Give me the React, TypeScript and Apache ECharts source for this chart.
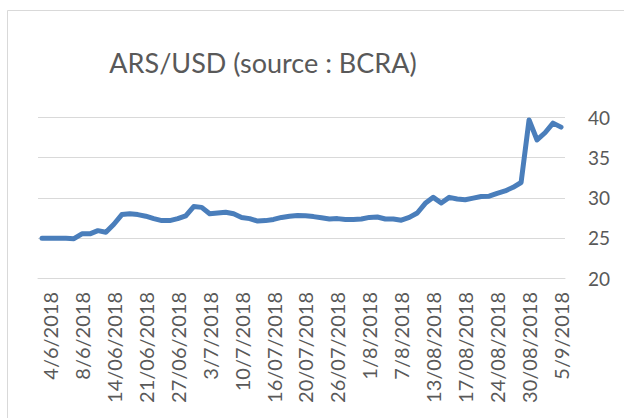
import React, { useEffect, useRef } from "react";
import * as echarts from "echarts";

const titleText = "ARS/USD (source : BCRA)";

const dates: string[] = [
  "1/6/2018", "4/6/2018", "5/6/2018", "6/6/2018", "7/6/2018", "8/6/2018",
  "11/06/2018", "12/06/2018", "13/06/2018", "14/06/2018", "15/06/2018", "18/06/2018",
  "19/06/2018", "21/06/2018", "22/06/2018", "25/06/2018", "26/06/2018", "27/06/2018",
  "28/06/2018", "29/06/2018", "2/7/2018", "3/7/2018", "4/7/2018", "5/7/2018",
  "6/7/2018", "10/7/2018", "11/07/2018", "12/07/2018", "13/07/2018", "16/07/2018",
  "17/07/2018", "18/07/2018", "19/07/2018", "20/07/2018", "23/07/2018", "24/07/2018",
  "25/07/2018", "26/07/2018", "27/07/2018", "30/07/2018", "31/07/2018", "1/8/2018",
  "2/8/2018", "3/8/2018", "6/8/2018", "7/8/2018", "8/8/2018", "9/8/2018",
  "10/8/2018", "13/08/2018", "14/08/2018", "15/08/2018", "16/08/2018", "17/08/2018",
  "21/08/2018", "22/08/2018", "23/08/2018", "24/08/2018", "27/08/2018", "28/08/2018",
  "29/08/2018", "30/08/2018", "31/08/2018", "3/9/2018", "4/9/2018", "5/9/2018",
];

const arsUsd: number[] = [
  24.95, 24.95, 24.95, 24.95, 24.9, 25.5,
  25.5, 25.9, 25.7, 26.7, 27.9, 28.0,
  27.9, 27.7, 27.4, 27.15, 27.15, 27.4,
  27.75, 28.9, 28.8, 28.0, 28.1, 28.2,
  28.0, 27.55, 27.4, 27.1, 27.15, 27.3,
  27.55, 27.7, 27.8, 27.75, 27.65, 27.5,
  27.35, 27.4, 27.3, 27.3, 27.35, 27.55,
  27.6, 27.35, 27.35, 27.2, 27.55, 28.1,
  29.3, 30.05, 29.35, 30.05, 29.85, 29.75,
  29.95, 30.15, 30.2, 30.55, 30.85, 31.3,
  31.9, 39.7, 37.2, 38.1, 39.3, 38.8,
];

const yMin = 20;
const yMax = 40;
const yStep = 5;

export default function App() {
  const ref = useRef<HTMLDivElement>(null);
  useEffect(() => {
    if (!ref.current) return;
    const chart = echarts.init(ref.current, undefined, { renderer: "svg" });
    const font = "Lato, 'Open Sans', sans-serif";
    chart.setOption({
      animation: false,
      backgroundColor: "#ffffff",
      graphic: [
        {
          type: "rect",
          shape: { x: 7.5, y: 10.5, width: 700, height: 500 },
          style: { fill: "none", stroke: "#d9d9d9", lineWidth: 1 },
          silent: true,
        },
      ],
      title: {
        text: titleText,
        left: 258,
        top: 44,
        textAlign: "center",
        textStyle: {
          fontFamily: font,
          fontSize: 27,
          fontWeight: "normal",
          color: "#595959",
        },
      },
      grid: { left: 38, right: 59, top: 117.5, bottom: 140, containLabel: false },
      xAxis: {
        type: "category",
        data: dates,
        boundaryGap: true,
        axisLine: { show: true, lineStyle: { color: "#d9d9d9", width: 1 } },
        axisTick: { show: false },
        axisLabel: {
          interval: (index: number) => index % 4 === 1,
          rotate: 90,
          margin: 14,
          fontFamily: font,
          fontSize: 20,
          color: "#595959",
        },
      },
      yAxis: {
        type: "value",
        position: "right",
        min: yMin,
        max: yMax,
        interval: yStep,
        axisLine: { show: false },
        axisTick: { show: false },
        splitLine: { lineStyle: { color: "#d9d9d9", width: 1 } },
        axisLabel: {
          margin: 23,
          fontFamily: font,
          fontSize: 19,
          color: "#595959",
        },
      },
      series: [
        {
          type: "line",
          data: arsUsd,
          symbol: "none",
          lineStyle: { color: "#4a7ebb", width: 5, join: "round", cap: "round" },
          itemStyle: { color: "#4a7ebb" },
        },
      ],
    });
    return () => chart.dispose();
  }, []);
  return (
    <div
      ref={ref}
      style={{ position: "fixed", left: 0, top: 0, width: 624, height: 418 }}
    />
  );
}
